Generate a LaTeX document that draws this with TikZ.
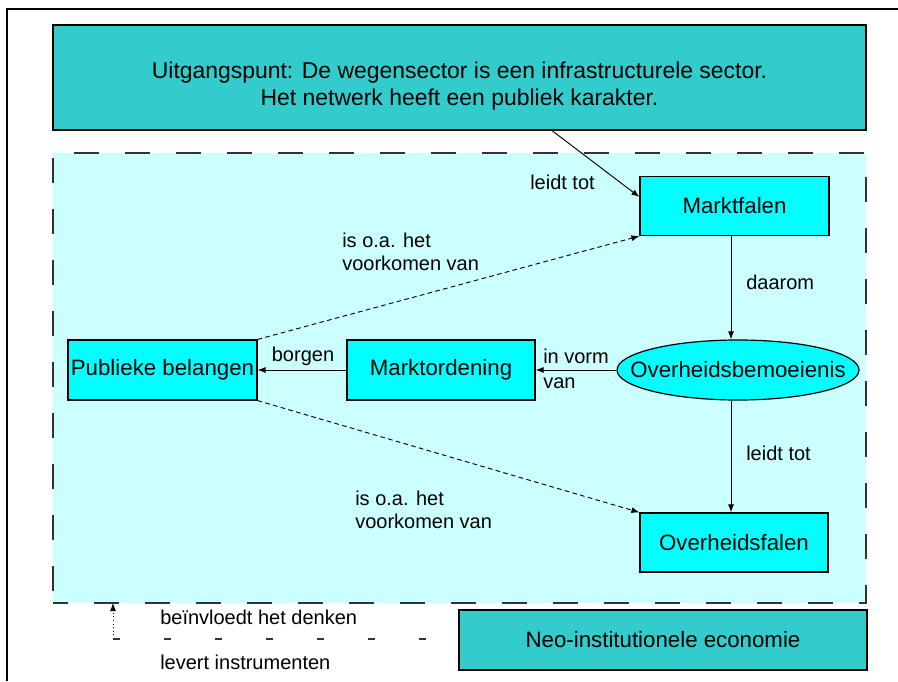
\documentclass[tikz,border=0pt]{standalone}
\usepackage{fontspec}
\setmainfont{Liberation Sans}
\usetikzlibrary{shapes.geometric,arrows.meta}
\definecolor{teal1}{HTML}{33CCCC}
\definecolor{lightc}{HTML}{CCFFFF}
\definecolor{cyan1}{HTML}{00FFFF}
\definecolor{dgray}{HTML}{333333}
\tikzset{
  nodefont/.style={font=\fontsize{16.7}{20}\selectfont},
  lblfont/.style={font=\fontsize{15}{17.25}\selectfont},
  box/.style={draw=black, line width=0.9pt, fill=cyan1, inner sep=0pt, nodefont},
  tealbox/.style={draw=black, line width=0.9pt, fill=teal1, inner sep=0pt},
  lbl/.style={lblfont, inner sep=0pt, align=left, anchor=west},
  conn/.style={line width=0.7pt, -{Latex[length=6pt,width=4.5pt]}},
  dconn/.style={conn, dash pattern=on 3.5pt off 2.5pt}
}
\begin{document}
\begin{tikzpicture}[x=0.75pt, y=-0.75pt]
\useasboundingbox (0,0) rectangle (898,681);
\fill[white] (0,0) rectangle (898,681);
% outer frame
\draw[line width=0.9pt] (7,681) -- (7,9) -- (898,9);
% dashed region
\node[draw=dgray, fill=lightc, line width=1.5pt, dash pattern=on 18.75pt off 19.5pt, dash phase=7.5pt,
      minimum width=609.75pt, minimum height=337.5pt, inner sep=0pt] (reg) at (459.5,378) {};
% top box
\node[tealbox, minimum width=609.75pt, minimum height=78.75pt] (top) at (459.5,77.5) {};
\node[align=center, inner sep=0pt, font=\fontsize{17.2}{20.25}\selectfont] (toptext) at (459.5,86)
  {Uitgangspunt: De wegensector is een infrastructurele sector.\\Het netwerk heeft een publiek karakter.};
% nodes
\node[box, minimum width=141.75pt, minimum height=44.25pt] (mf) at (734.5,206) {Marktfalen};
\node[box, ellipse, minimum width=181.5pt, minimum height=45pt] (ov) at (738,370) {\makebox[0pt]{Overheidsbemoeienis}};
\node[box, minimum width=141pt, minimum height=45pt] (mo) at (441,370) {Marktordening};
\node[box, minimum width=141.75pt, minimum height=45pt] (pb) at (162.5,370) {Publieke belangen};
\node[box, minimum width=141pt, minimum height=44.25pt] (of) at (734,542.5) {Overheidsfalen};
\node[tealbox, nodefont, minimum width=306pt, minimum height=45pt] (neo) at (663,640) {Neo-institutionele economie};
% connectors
\coordinate (a1) at (552,0);
\draw[conn] (top.south -| a1) -- ([yshift=6.75pt]mf.west);
\coordinate (vx) at (731,0);
\draw[conn] (mf.south -| vx) -- (ov.north -| vx);
\draw[conn] (ov.south -| vx) -- (of.north -| vx);
\draw[conn] (ov.west) -- (mo.east);
\draw[conn] (mo.west) -- (pb.east);
\draw[dconn] (pb.north east) -- (mf.south west);
\draw[dconn] (pb.south east) -- (of.north west);
% labels
\node[lbl] (l1) at (530,182) {leidt tot};
\node[lbl] (l2) at (342,251.5) {is o.a. het\\voorkomen van};
\node[lbl] (l3) at (355,510) {is o.a. het\\voorkomen van};
\node[lbl] (l4) at (746,282) {daarom};
\node[lbl] (l5) at (746,453) {leidt tot};
\node[lblfont, inner sep=0pt] (l6) at (303,356) {borgen};
\node[lbl, font=\fontsize{15}{19}\selectfont] (l7) at (543,369) {in vorm\\van};
% legend
\coordinate (c1) at (113,639);
\coordinate (c2) at (113,603);
\coordinate (c3) at (432,639);
\draw[line width=0.7pt, dotted, -{Latex[length=6pt,width=4.5pt]}] (c1) -- (c2);
\draw[line width=0.9pt, dgray, dash pattern=on 5.25pt off 33pt] (c1) -- (c3);
\node[lbl] (g1) at (160,617) {beïnvloedt het denken};
\node[lbl] (g2) at (160,662) {levert instrumenten};
\end{tikzpicture}
\end{document}
